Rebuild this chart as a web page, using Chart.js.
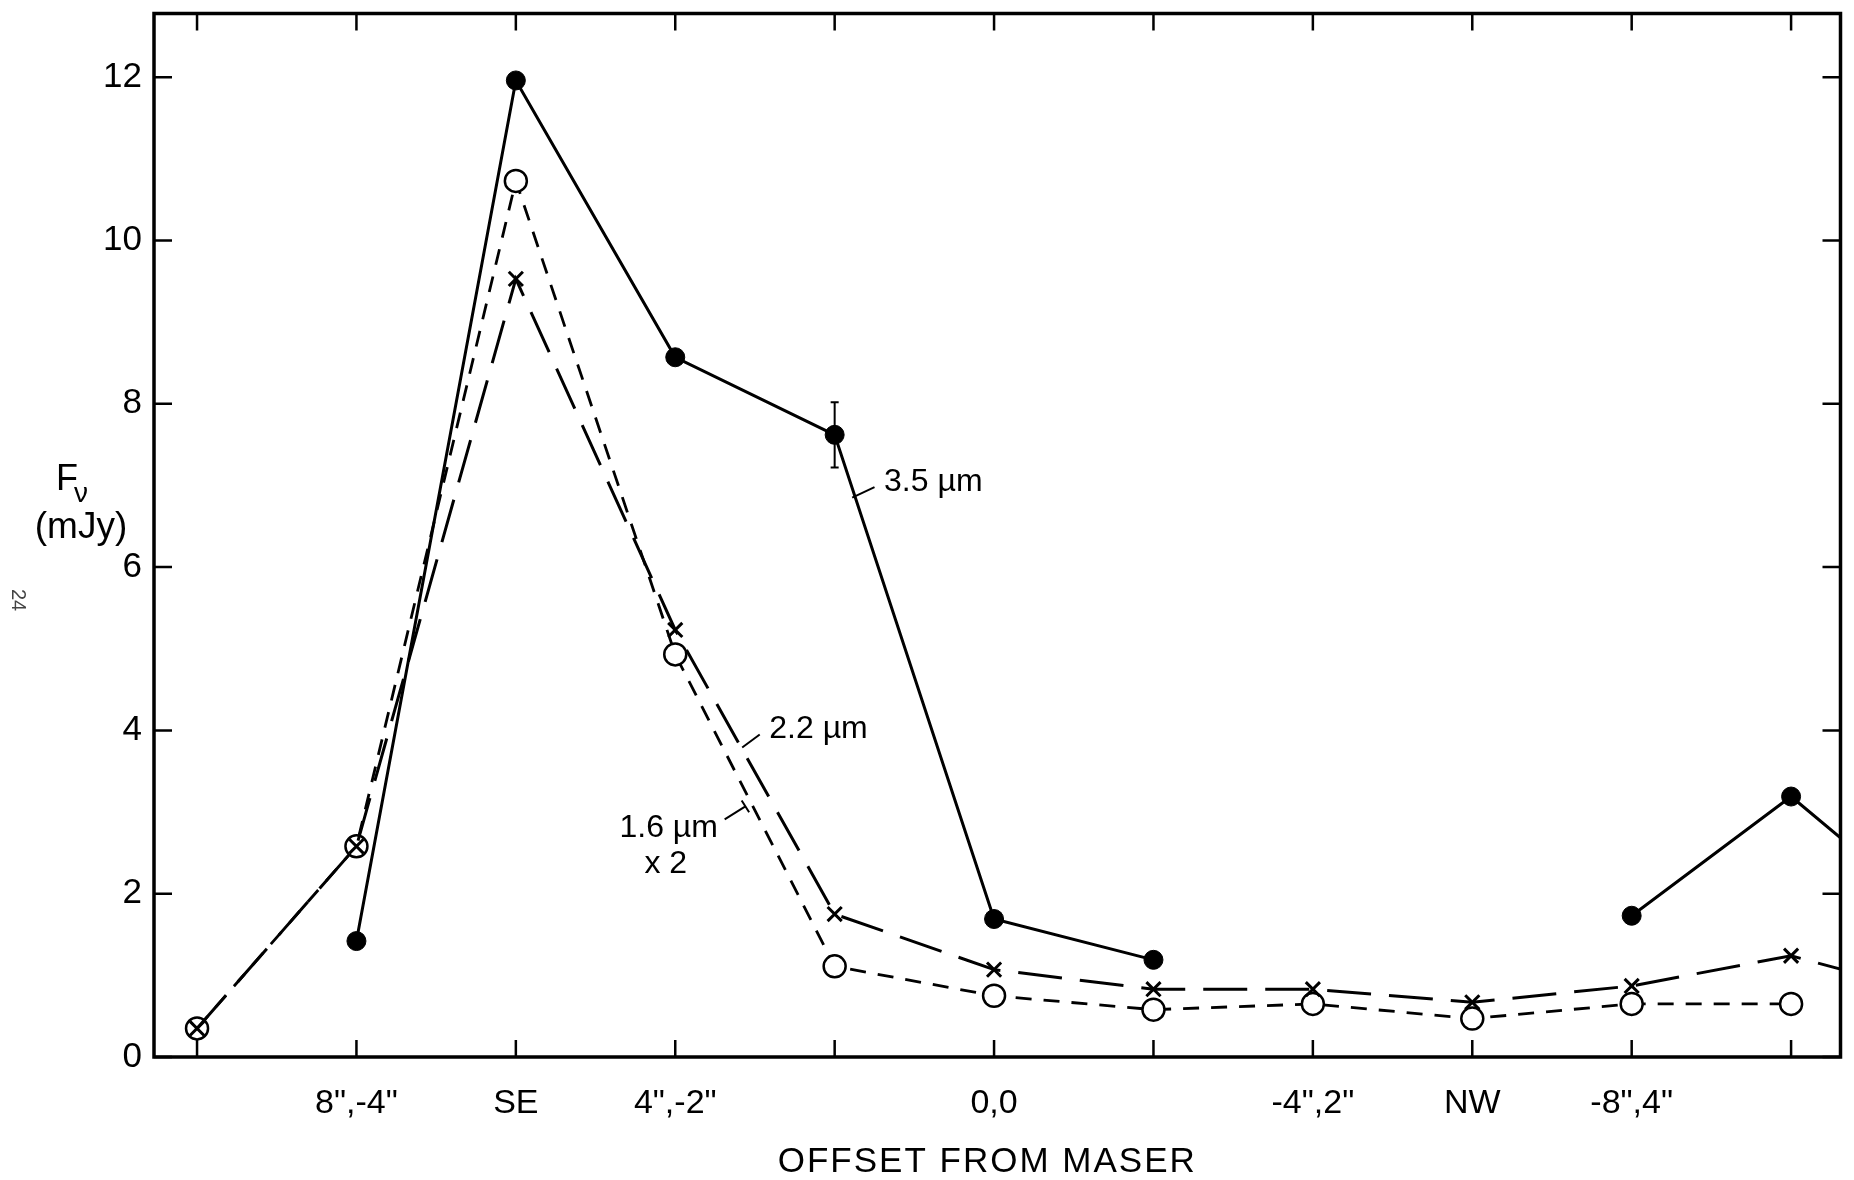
<!DOCTYPE html>
<html>
<head>
<meta charset="utf-8">
<script src="https://cdn.jsdelivr.net/npm/chart.js@4.4.0/dist/chart.umd.min.js"></script>
<style>
  html, body { margin: 0; padding: 0; background: #fff; }
</style>
</head>
<body>
<canvas id="grafico" width="1854" height="1180"></canvas>
<script>
// dados (Fv em mJy)
const rotulos = ['', '8",-4"', 'SE', '4",-2"', '', '0,0', '', '-4",2"', 'NW', '-8",4"', '', ''];
const fluxo35 = [null, 1.42, 11.96, 8.57, 7.62, 1.69, 1.19, null, null, 1.73, 3.19, 1.56];
const erro35 = [null, null, null, null, 0.40, null, null, null, null, null, null, null];
const fluxo22 = [0.35, 2.58, 9.53, 5.23, 1.75, 1.07, 0.83, 0.83, 0.67, 0.87, 1.24, 0.71];
const fluxo16 = [0.35, 2.58, 10.73, 4.93, 1.11, 0.75, 0.58, 0.65, 0.47, 0.65, 0.65, null];
const yTicks = [0, 2, 4, 6, 8, 10, 12];

const fonte = "'Liberation Sans', Arial, sans-serif";

// textos dentro do grafico, em unidades dos eixos
const notas = [
  { linhas: ['3.5 µm'], x: 4.31, y: 7.04, seta: [4.25, 6.98, 4.11, 6.85] },
  { linhas: ['2.2 µm'], x: 3.59, y: 4.01, seta: [3.53, 3.95, 3.42, 3.79] },
  { linhas: ['1.6 µm', 'x 2'], x: 2.65, y: 2.80, seta: [3.31, 2.91, 3.44, 3.07], barra: true }
];

function pontos(lista) {
  let saida = [];
  for (var i in lista) {
    saida.push({ x: Number(i), y: lista[i] });
  }
  return saida;
}

const moldura = {
  id: 'moldura',
  afterDatasetsDraw(chart) {
    const ctx = chart.ctx;
    const a = chart.chartArea;
    const sx = chart.scales.x;
    const sy = chart.scales.y;
    ctx.save();
    ctx.strokeStyle = '#000';
    ctx.fillStyle = '#000';

    // barra de erro
    ctx.lineWidth = 2;
    for (var i in erro35) {
      if (erro35[i] == null) continue;
      const px = sx.getPixelForValue(Number(i));
      const y1 = sy.getPixelForValue(fluxo35[i] + erro35[i]);
      const y2 = sy.getPixelForValue(fluxo35[i] - erro35[i]);
      ctx.beginPath();
      ctx.moveTo(px, y1); ctx.lineTo(px, y2);
      ctx.moveTo(px - 4, y1); ctx.lineTo(px + 4, y1);
      ctx.moveTo(px - 4, y2); ctx.lineTo(px + 4, y2);
      ctx.stroke();
    }

    // moldura
    ctx.lineWidth = 3.5;
    ctx.strokeRect(a.left, a.top, a.right - a.left, a.bottom - a.top);

    // marcas para dentro
    ctx.lineWidth = 2.5;
    ctx.beginPath();
    sy.ticks.forEach(t => {
      const py = sy.getPixelForValue(t.value);
      ctx.moveTo(a.left, py); ctx.lineTo(a.left + 18, py);
      ctx.moveTo(a.right, py); ctx.lineTo(a.right - 18, py);
    });
    sx.ticks.forEach(t => {
      const px = sx.getPixelForValue(t.value);
      ctx.moveTo(px, a.bottom); ctx.lineTo(px, a.bottom - 17);
      ctx.moveTo(px, a.top); ctx.lineTo(px, a.top + 17);
    });
    ctx.stroke();

    // notas
    ctx.font = '32px ' + fonte;
    ctx.textBaseline = 'middle';
    ctx.textAlign = 'left';
    ctx.lineWidth = 2;
    notas.forEach(n => {
      const tx = sx.getPixelForValue(n.x);
      const ty = sy.getPixelForValue(n.y);
      ctx.fillText(n.linhas[0], tx, ty);
      if (n.linhas[1]) ctx.fillText(n.linhas[1], tx + 25, ty + 36);
      const x1 = sx.getPixelForValue(n.seta[0]), y1 = sy.getPixelForValue(n.seta[1]);
      const x2 = sx.getPixelForValue(n.seta[2]), y2 = sy.getPixelForValue(n.seta[3]);
      ctx.beginPath();
      ctx.moveTo(x1, y1); ctx.lineTo(x2, y2);
      if (n.barra) {
        const dx = x2 - x1, dy = y2 - y1, d = Math.hypot(dx, dy);
        const ux = -dy / d * 7, uy = dx / d * 7;
        ctx.moveTo(x2 - ux, y2 - uy); ctx.lineTo(x2 + ux, y2 + uy);
      }
      ctx.stroke();
    });

    // titulos dos eixos
    ctx.textAlign = 'center';
    ctx.font = '35px ' + fonte;
    ctx.letterSpacing = '2px';
    ctx.fillText('OFFSET FROM MASER', (a.left + a.right) / 2 - 10, 1162);
    ctx.letterSpacing = '0px';
    ctx.textAlign = 'left';
    ctx.font = '36px ' + fonte;
    ctx.fillText('F', 56, 480);
    ctx.font = '28px ' + fonte;
    ctx.fillText('ν', 74, 494);
    ctx.font = '37px ' + fonte;
    ctx.textAlign = 'center';
    ctx.fillText('(mJy)', 81, 528);

    // numero de pagina no canto
    ctx.translate(18, 600);
    ctx.rotate(Math.PI / 2);
    ctx.font = '20px ' + fonte;
    ctx.fillStyle = '#444';
    ctx.fillText('24', 0, 0);
    ctx.restore();
  }
};

const config = {
  type: 'line',
  data: {
    datasets: [
      {
        label: '3.5 µm',
        data: pontos(fluxo35),
        order: 0,
        borderColor: '#000',
        backgroundColor: '#000',
        borderWidth: 3,
        pointStyle: 'circle',
        pointRadius: 9.5,
        pointBorderWidth: 1,
        spanGaps: false,
        tension: 0
      },
      {
        label: '2.2 µm',
        data: pontos(fluxo22),
        order: 1,
        borderColor: '#000',
        backgroundColor: '#000',
        borderWidth: 3,
        borderDash: [44, 18],
        pointStyle: 'crossRot',
        pointRadius: 10,
        pointBorderWidth: 3,
        tension: 0
      },
      {
        label: '1.6 µm x 2',
        data: pontos(fluxo16),
        order: 2,
        borderColor: '#000',
        backgroundColor: '#fff',
        borderWidth: 2.8,
        borderDash: [16, 12],
        pointStyle: 'circle',
        pointRadius: 11,
        pointBorderWidth: 2.5,
        tension: 0
      }
    ]
  },
  options: {
    responsive: false,
    animation: false,
    devicePixelRatio: 1,
    layout: { padding: { top: 11, right: 6, left: 0, bottom: 0 } },
    plugins: { legend: { display: false }, tooltip: { enabled: false } },
    scales: {
      x: {
        type: 'linear',
        min: -0.27,
        max: 10.31,
        grid: { display: false, drawTicks: false },
        border: { display: false },
        ticks: {
          padding: 26,
          color: '#000',
          autoSkip: false,
          maxRotation: 0,
          font: { family: fonte, size: 34 },
          callback: v => rotulos[v] || ''
        },
        afterBuildTicks: s => {
          let lista = [];
          for (var i in rotulos) {
            if (Number(i) <= s.max) lista.push({ value: Number(i) });
          }
          s.ticks = lista;
        },
        afterFit: s => { s.height = 123; s.paddingLeft = 0; s.paddingRight = 0; }
      },
      y: {
        min: 0,
        max: 12.78,
        grid: { display: false, drawTicks: false },
        border: { display: false },
        ticks: {
          padding: 12,
          color: '#000',
          font: { family: fonte, size: 35 }
        },
        afterBuildTicks: s => { s.ticks = yTicks.map(v => ({ value: v })); },
        afterFit: s => { s.width = 154; s.paddingTop = 0; s.paddingBottom = 0; }
      }
    }
  },
  plugins: [moldura]
};

new Chart(document.getElementById('grafico'), config);
</script>
</body>
</html>
